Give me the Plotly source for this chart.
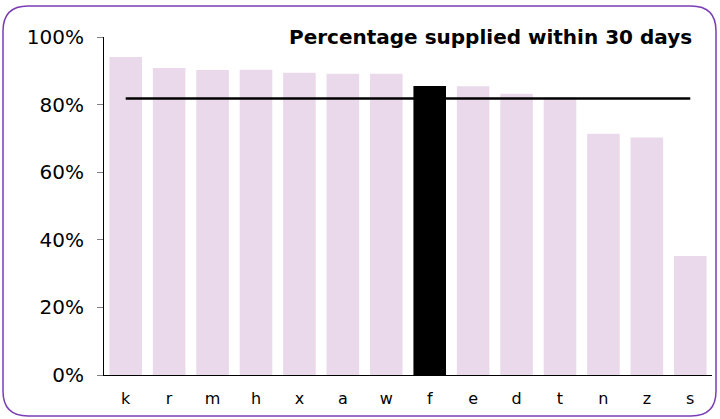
import plotly.graph_objects as go

categories = ["k", "r", "m", "h", "x", "a", "w", "f", "e", "d", "t", "n", "z", "s"]
values = [94.1, 90.8, 90.2, 90.3, 89.4, 89.1, 89.1, 85.5, 85.4, 83.2, 82.1, 71.4, 70.3, 35.2]
highlight = "f"
benchmark = 81.8
title_text = "Percentage supplied within 30 days"
y_tick_values = [0, 20, 40, 60, 80, 100]
y_tick_labels = ["0%", "20%", "40%", "60%", "80%", "100%"]

PINK = "#EAD9EB"
PURPLE = "#7A3DB5"
FONT = "DejaVu Sans"

W, H = 720, 419
ML, MR, MT, MB = 104, 8, 37, 44
PW, PH = W - ML - MR, H - MT - MB


def px(x):
    return (x - ML) / PW


def py(y):
    return (H - MB - y) / PH


others = [None if c == highlight else v for c, v in zip(categories, values)]
hl = [v if c == highlight else None for c, v in zip(categories, values)]

fig = go.Figure()
fig.add_trace(go.Bar(x=categories, y=others, marker=dict(color=PINK, line=dict(width=0)),
                     width=0.75, showlegend=False, hoverinfo="x+y"))
fig.add_trace(go.Scatter(x=categories, y=[benchmark] * len(categories), mode="lines",
                         line=dict(color="black", width=2.5), showlegend=False))
fig.add_trace(go.Bar(x=categories, y=hl, marker=dict(color="black", line=dict(width=0)),
                     width=0.75, showlegend=False, xaxis="x2", yaxis="y2"))

# rounded border
x0, x1, y0, y1, r = 3, 716, 6, 416, 25
path = (
    f"M {px(x0 + r)} {py(y0)} L {px(x1 - r)} {py(y0)} "
    f"Q {px(x1)} {py(y0)} {px(x1)} {py(y0 + r)} "
    f"L {px(x1)} {py(y1 - r)} Q {px(x1)} {py(y1)} {px(x1 - r)} {py(y1)} "
    f"L {px(x0 + r)} {py(y1)} Q {px(x0)} {py(y1)} {px(x0)} {py(y1 - r)} "
    f"L {px(x0)} {py(y0 + r)} Q {px(x0)} {py(y0)} {px(x0 + r)} {py(y0)} Z"
)
fig.add_shape(type="path", path=path, xref="paper", yref="paper",
              line=dict(color=PURPLE, width=1.5), layer="above")

fig.add_annotation(text=f"<b>{title_text}</b>", xref="paper", yref="paper",
                   x=px(694), y=py(37), xanchor="right", yanchor="middle",
                   showarrow=False, font=dict(family=FONT, size=20, color="black"))

fig.update_layout(
    width=W, height=H,
    margin=dict(l=ML, r=MR, t=MT, b=MB),
    paper_bgcolor="white", plot_bgcolor="white",
    barmode="overlay",
    font=dict(family=FONT, color="black"),
    xaxis=dict(type="category", categoryorder="array", categoryarray=categories,
               range=[-0.5, len(categories) - 0.5],
               showline=True, linecolor="black", linewidth=1, showgrid=False,
               ticks="", tickfont=dict(size=16), ticklabelstandoff=9, zeroline=False),
    yaxis=dict(range=[0, 100], tickmode="array", tickvals=y_tick_values,
               ticktext=y_tick_labels, showgrid=False,
               showline=True, linecolor="black", linewidth=1, ticks="outside",
               ticklen=6, tickcolor="#808080", tickfont=dict(size=20),
               ticklabelstandoff=9, zeroline=False),
    xaxis2=dict(type="category", categoryorder="array", categoryarray=categories,
                range=[-0.5, len(categories) - 0.5], overlaying="x", visible=False),
    yaxis2=dict(range=[0, 100], overlaying="y", visible=False),
)

fig.write_html("out.html", config={"displayModeBar": False},
               post_script="document.body.style.margin='0px';")
